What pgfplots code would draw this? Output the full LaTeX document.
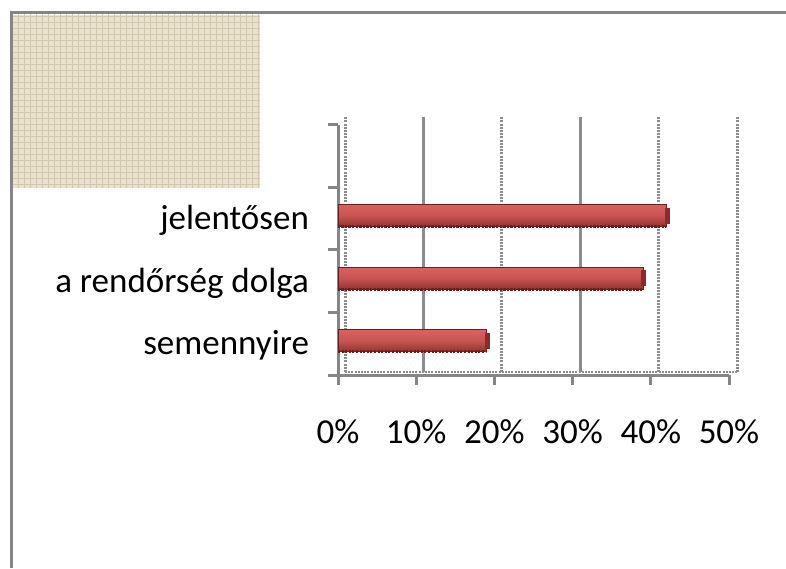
\documentclass[border=0pt]{standalone}
\usepackage{fontspec}
\setmainfont{Carlito}
\usepackage{pgfplots}
\pgfplotsset{compat=1.18}
\usetikzlibrary{patterns}
\definecolor{frame}{RGB}{134,134,134}
\definecolor{gridc}{RGB}{140,140,140}
\definecolor{barmid}{RGB}{200,84,81}
\definecolor{bartop}{RGB}{216,98,95}
\definecolor{barbot}{RGB}{146,50,48}
\definecolor{bardark}{RGB}{110,30,28}
\definecolor{barcap}{RGB}{135,45,43}
\definecolor{linen}{RGB}{233,226,206}
\definecolor{linenline}{RGB}{210,200,174}

\pgfplotsset{
  redbar/.style={xbar, bar width=11pt, bar shift=1.5pt, draw=bardark, line width=0.3pt,
    top color=bartop, bottom color=barbot, middle color=barmid},
}

\begin{document}
\begin{tikzpicture}
\path[use as bounding box] (0pt,0pt) rectangle (393pt,284pt);
% textured patch top left
\fill[linen] (6.5pt,190pt) rectangle (130pt,276.5pt);
\fill[pattern=grid, pattern color=linenline] (6.5pt,190pt) rectangle (130pt,276.5pt);
% chart frame
\draw[frame, line width=1.5pt] (5.5pt,0pt) -- (5.5pt,277.5pt) -- (393pt,277.5pt);

% back wall with gridlines
\begin{axis}[
  at={(172.5pt,98pt)}, anchor=south west,
  scale only axis, width=196pt, height=127.5pt,
  xmin=0, xmax=50, ymin=-0.5, ymax=3.5,
  axis line style={draw=none},
  xtick={0,20,40,50}, xticklabels={}, ytick=\empty,
  major tick length=0pt,
  xmajorgrids,
  major grid style={gridc, line width=1.5pt, dash pattern=on 1pt off 0.6pt},
  extra x ticks={10,30}, extra x tick labels={},
  extra x tick style={major grid style={gridc, line width=1.5pt, solid}},
]
\draw[gridc, line width=1.5pt, dash pattern=on 1pt off 0.6pt] (rel axis cs:0,0) -- (rel axis cs:1,0);
\end{axis}

% front: axes, ticks, bars
\begin{axis}[
  at={(169pt,96.5pt)}, anchor=south west,
  scale only axis, width=195.5pt, height=125pt,
  xmin=0, xmax=50, ymin=-0.5, ymax=3.5,
  axis x line*=bottom, axis y line*=left,
  axis line style={frame, line width=1.5pt, -},
  tick align=outside,
  tick style={frame, line width=1.5pt},
  major tick length=5pt,
  xtick={0,10,...,50},
  xticklabel={\pgfmathprintnumber{\tick}\%},
  /pgf/number format/assume math mode=true,
  ytick={-0.5,0.5,1.5,2.5,3.5}, yticklabels={},
  extra y ticks={0,1,2},
  extra y tick labels={semennyire, a rendőrség dolga, jelentősen},
  extra y tick style={major tick length=0pt},
  ticklabel style={font=\fontsize{17.5}{21}\selectfont, text=black},
  xticklabel style={yshift=-14pt},
  yticklabel style={xshift=-11pt, yshift=-1pt},
  clip=false,
]
% one plot per bar, so each bar gets its own shading
\addplot[redbar] coordinates {(19,0)};
\addplot[redbar] coordinates {(39,1)};
\addplot[redbar] coordinates {(42,2)};
% dotted dark lower edge of the bars
\addplot[xbar, bar width=0pt, bar shift=-4pt, draw=bardark, line width=1.5pt,
  dash pattern=on 1pt off 0.8pt, fill=none]
  coordinates {(19,0) (39,1) (42,2)};
% bar end caps
\addplot[only marks, mark=|, mark size=4pt,
  mark options={barcap, line width=2.5pt, yshift=1.5pt, xshift=0.5pt}]
  coordinates {(19,0) (39,1) (42,2)};
\end{axis}
\end{tikzpicture}
\end{document}
